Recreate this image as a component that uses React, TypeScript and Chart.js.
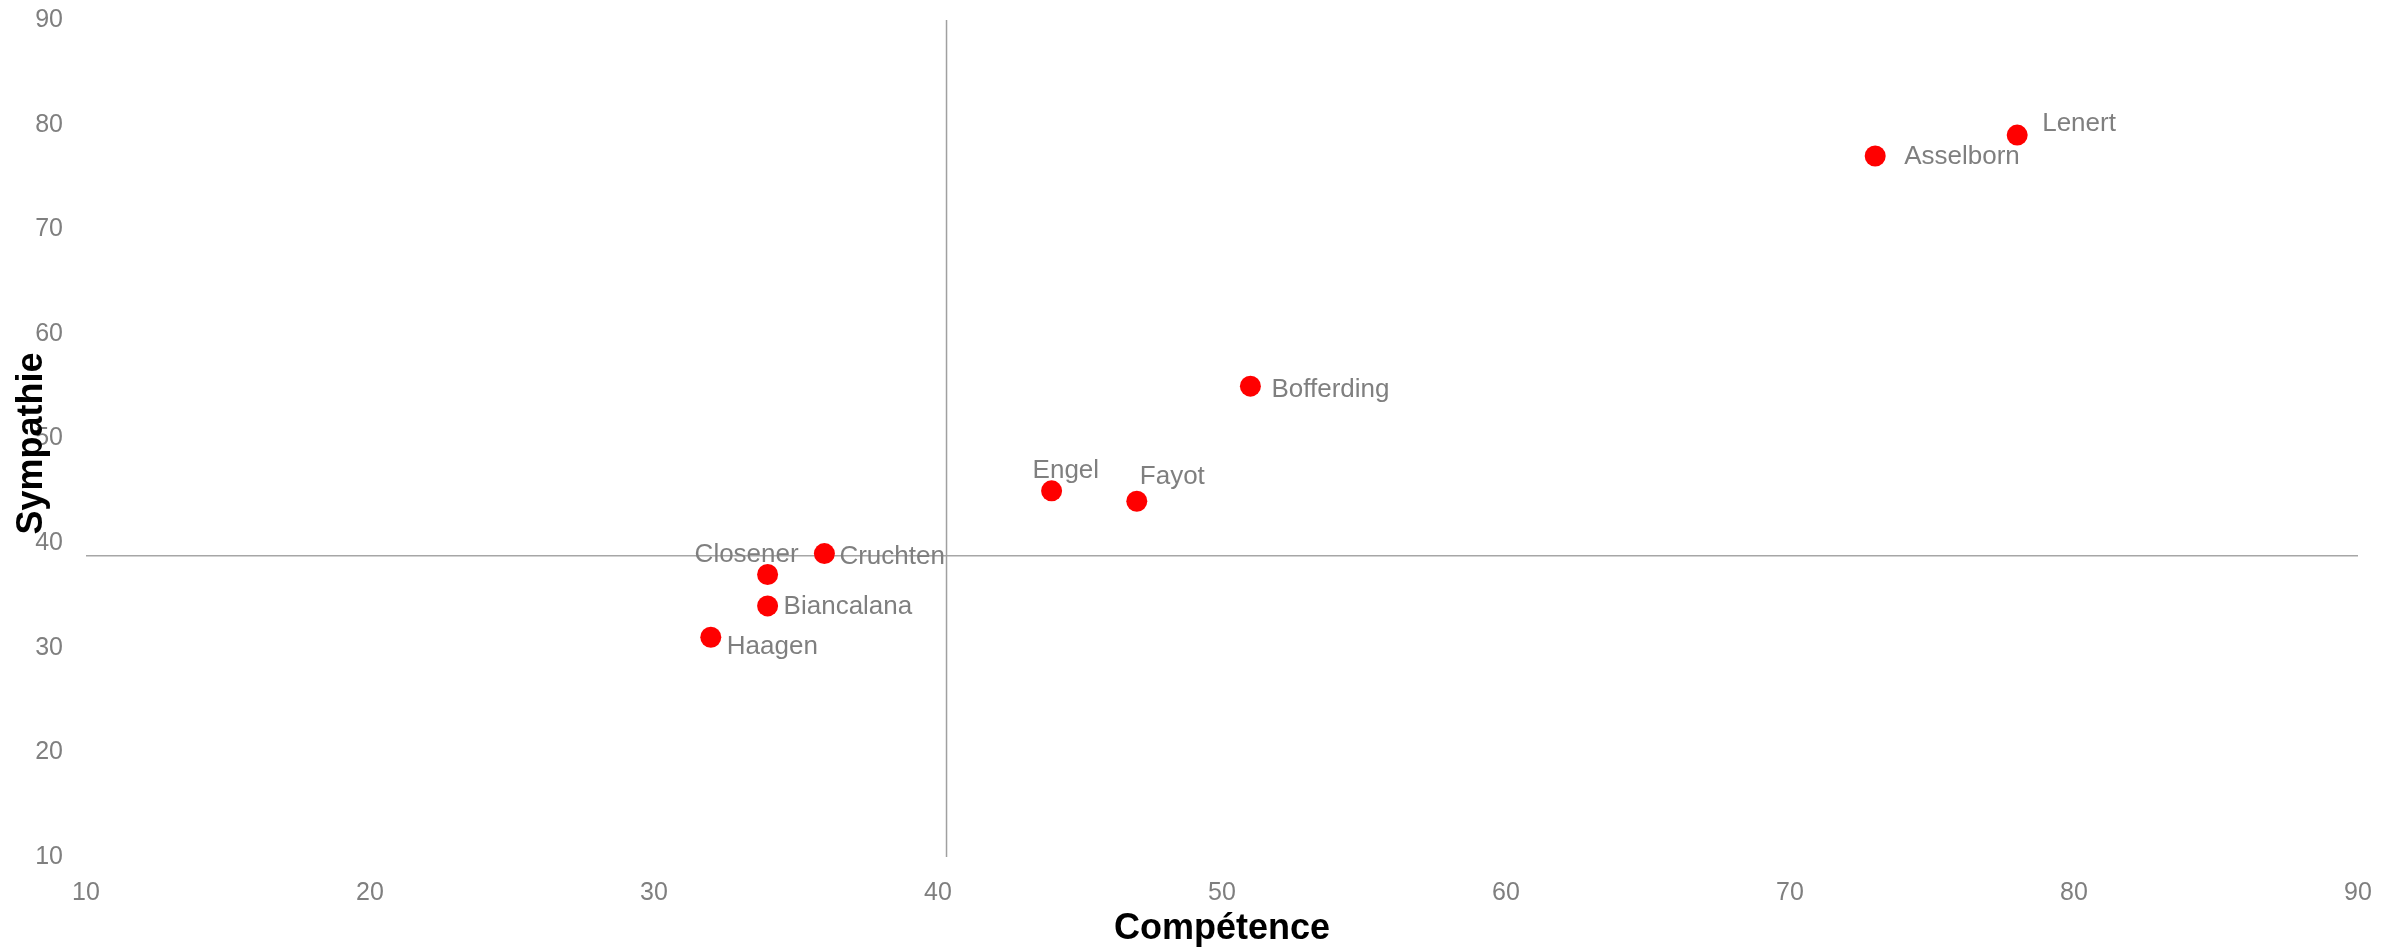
import React, { useEffect, useRef } from "react";
import { Chart, registerables } from "chart.js";

Chart.register(...registerables);

// ---- data ----
const names = ["Lenert", "Asselborn", "Bofferding", "Engel", "Fayot", "Cruchten", "Closener", "Biancalana", "Haagen"];
const competence = [78, 73, 51, 44, 47, 36, 34, 34, 32];
const sympathie = [79, 77, 55, 45, 44, 39, 37, 34, 31];
const xTicks = [10, 20, 30, 40, 50, 60, 70, 80, 90];
const yTicks = [10, 20, 30, 40, 50, 60, 70, 80, 90];
const quadrantX = [40.3];
const quadrantY = [38.8];
const xTitle = "Compétence";
const yTitle = "Sympathie";

// label placement (pixel offsets from each dot: left edge dx, vertical centre dy)
const labelOffsets = [
  [25, -11],
  [29, 1],
  [21, 4],
  [-19, -20],
  [3, -24],
  [15, 3],
  [-73, -20],
  [16, 1],
  [16, 10],
];

const FONT = "'Liberation Sans', Arial, sans-serif";
const GREY = "#7f7f7f";

const labelPlugin = {
  id: "pointLabels",
  afterDatasetsDraw(chart: any) {
    const meta = chart.getDatasetMeta(0);
    const ctx = chart.ctx;
    ctx.save();
    ctx.font = `26px ${FONT}`;
    ctx.fillStyle = GREY;
    ctx.textAlign = "left";
    ctx.textBaseline = "middle";
    meta.data.forEach((el: any, i: number) => {
      const off = labelOffsets[i] || [15, 0];
      ctx.fillText(names[i], el.x + off[0], el.y + off[1]);
    });
    ctx.restore();
  },
};

const titlePlugin = {
  id: "axisTitles",
  afterDraw(chart: any) {
    const ctx = chart.ctx;
    const a = chart.chartArea;
    ctx.save();
    ctx.font = `bold 36px ${FONT}`;
    ctx.fillStyle = "#000";
    ctx.textAlign = "center";
    ctx.textBaseline = "alphabetic";
    ctx.fillText(xTitle, (a.left + a.right) / 2, a.bottom + 82);
    ctx.translate(42, (a.top + a.bottom) / 2 + 5);
    ctx.rotate(-Math.PI / 2);
    ctx.fillText(yTitle, 0, 0);
    ctx.restore();
  },
};

export default function App() {
  const ref = useRef<HTMLCanvasElement>(null);
  useEffect(() => {
    document.body.style.margin = "0";
    document.body.style.overflow = "hidden";
    const points = competence.map((x, i) => ({ x, y: sympathie[i] }));
    const chart = new Chart(ref.current as HTMLCanvasElement, {
      type: "scatter",
      data: {
        datasets: [
          {
            label: "points",
            data: points,
            backgroundColor: "#ff0000",
            borderWidth: 0,
            pointRadius: 10.5,
            pointHoverRadius: 10.5,
            order: 0,
          },
          {
            label: "vline",
            data: [
              { x: quadrantX[0], y: yTicks[0] },
              { x: quadrantX[0], y: yTicks[yTicks.length - 1] },
            ],
            showLine: true,
            borderColor: "#a0a0a0",
            borderWidth: 1.5,
            pointRadius: 0,
            order: 1,
          },
          {
            label: "hline",
            data: [
              { x: xTicks[0], y: quadrantY[0] },
              { x: xTicks[xTicks.length - 1], y: quadrantY[0] },
            ],
            showLine: true,
            borderColor: "#a6a6a6",
            borderWidth: 1.5,
            pointRadius: 0,
            order: 1,
          },
        ],
      },
      options: {
        responsive: false,
        animation: false,
        layout: { padding: { top: 20, right: 44, left: 0, bottom: 0 } },
        plugins: {
          legend: { display: false },
          tooltip: { enabled: false },
          title: { display: false },
        },
        scales: {
          x: {
            type: "linear",
            min: xTicks[0],
            max: xTicks[xTicks.length - 1],
            afterBuildTicks: (s: any) => {
              s.ticks = xTicks.map((v) => ({ value: v }));
            },
            afterFit: (s: any) => {
              s.height = 91;
              s.paddingLeft = 0;
              s.paddingRight = 0;
              s.paddingTop = 0;
              s.paddingBottom = 0;
            },
            grid: { display: false, drawTicks: false },
            border: { display: false },
            ticks: {
              color: GREY,
              font: { family: FONT, size: 25 },
              padding: 21,
              maxRotation: 0,
            },
          },
          y: {
            type: "linear",
            min: yTicks[0],
            max: yTicks[yTicks.length - 1],
            afterBuildTicks: (s: any) => {
              s.ticks = yTicks.map((v) => ({ value: v }));
            },
            afterFit: (s: any) => {
              s.width = 86;
              s.paddingLeft = 0;
              s.paddingRight = 0;
              s.paddingTop = 0;
              s.paddingBottom = 0;
            },
            grid: { display: false, drawTicks: false },
            border: { display: false },
            ticks: {
              color: GREY,
              font: { family: FONT, size: 25 },
              padding: 23,
            },
          },
        },
      },
      plugins: [labelPlugin, titlePlugin],
    });
    return () => chart.destroy();
  }, []);
  return (
    <div style={{ position: "absolute", left: 0, top: 0, width: 2402, height: 948, background: "#fff" }}>
      <canvas ref={ref} width={2402} height={948} style={{ display: "block" }} />
    </div>
  );
}
